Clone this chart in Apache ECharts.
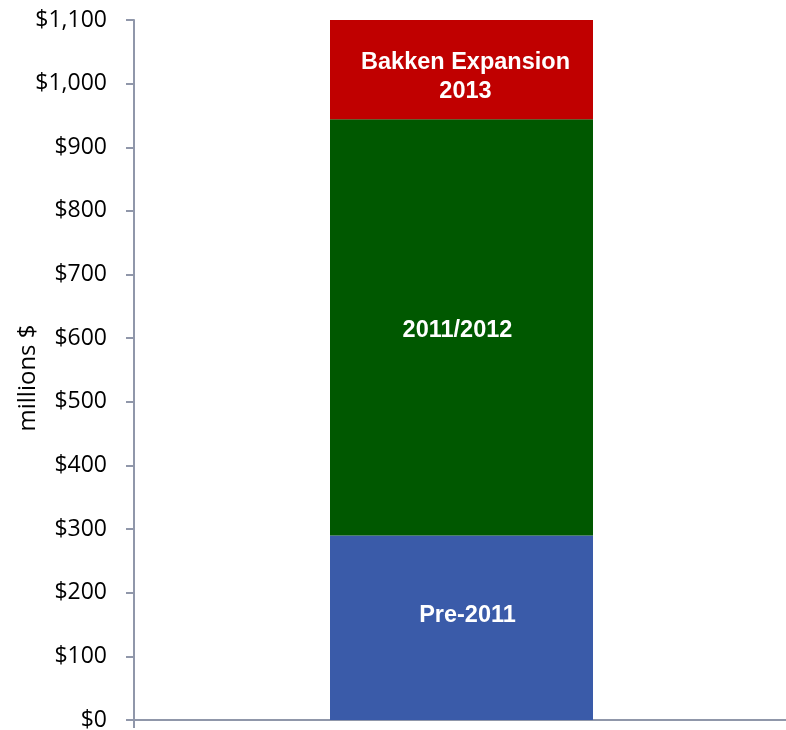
<!DOCTYPE html>
<html>
<head>
<meta charset="utf-8">
<title>Capital spending, millions $</title>
<script src="https://cdn.jsdelivr.net/npm/echarts@6/dist/echarts.min.js"></script>
<style>
  html, body { margin: 0; padding: 0; background: #ffffff; }
  #chart { width: 786px; height: 730px; }
</style>
</head>
<body>
<div id="chart"></div>
<script>
// Single stacked column, segment values in millions of dollars
const categories = [''];
const pre2011 = [290];
const y2011_2012 = [654];
const bakken2013 = [156];

const segmentNames = ['Pre-2011', '2011/2012', 'Bakken Expansion 2013'];
const segmentLabels = ['Pre-2011', '2011/2012', 'Bakken Expansion\n2013'];
const segmentColors = ['#3A5BA9', '#005800', '#C00000'];
const labelOffsets = [[6, -12], [-4, 3], [4, 7]];

const yTicks = { min: 0, max: 1100, interval: 100 };

const axisColor = '#9097AA';
const tickFont = '"Open Sans", "Liberation Sans", sans-serif';

function money(v) {
  return '$' + Number(v).toLocaleString('en-US');
}

const seriesData = [pre2011, y2011_2012, bakken2013];

const chart = echarts.init(document.getElementById('chart'), null, { renderer: 'canvas' });

chart.setOption({
  animation: false,
  backgroundColor: '#ffffff',
  // the category axis runs past the right edge of the canvas
  grid: {
    left: 134, right: -3, top: 20, bottom: 10,
    containLabel: false,
    outerBoundsMode: 'none'
  },
  xAxis: {
    type: 'category',
    data: categories,
    axisLine: { show: true, lineStyle: { color: axisColor, width: 2 } },
    axisTick: { show: true, length: 8, lineStyle: { color: axisColor, width: 2 } },
    axisLabel: { show: false },
    splitLine: { show: false }
  },
  yAxis: {
    type: 'value',
    min: yTicks.min,
    max: yTicks.max,
    interval: yTicks.interval,
    name: 'millions $',
    nameLocation: 'middle',
    nameRotate: 90,
    nameGap: 94,
    nameMoveOverlap: false,
    nameTextStyle: {
      color: '#000000',
      fontSize: 24,
      fontFamily: tickFont,
      padding: [0, 16, 0, 0]
    },
    axisLine: { show: true, lineStyle: { color: axisColor, width: 2 } },
    axisTick: { show: true, length: 8, lineStyle: { color: axisColor, width: 2 } },
    axisLabel: {
      color: '#000000',
      fontSize: 23,
      fontFamily: tickFont,
      margin: 27,
      formatter: money
    },
    splitLine: { show: false }
  },
  series: seriesData.map((vals, i) => ({
    name: segmentNames[i],
    type: 'bar',
    stack: 'total',
    barWidth: 263,
    data: vals,
    itemStyle: { color: segmentColors[i] },
    label: {
      show: true,
      position: 'inside',
      offset: labelOffsets[i],
      formatter: segmentLabels[i],
      color: '#ffffff',
      fontWeight: 'bold',
      fontSize: 23.5,
      lineHeight: 29,
      fontFamily: '"Liberation Sans", Arial, sans-serif',
      align: 'center'
    }
  }))
});
</script>
</body>
</html>
